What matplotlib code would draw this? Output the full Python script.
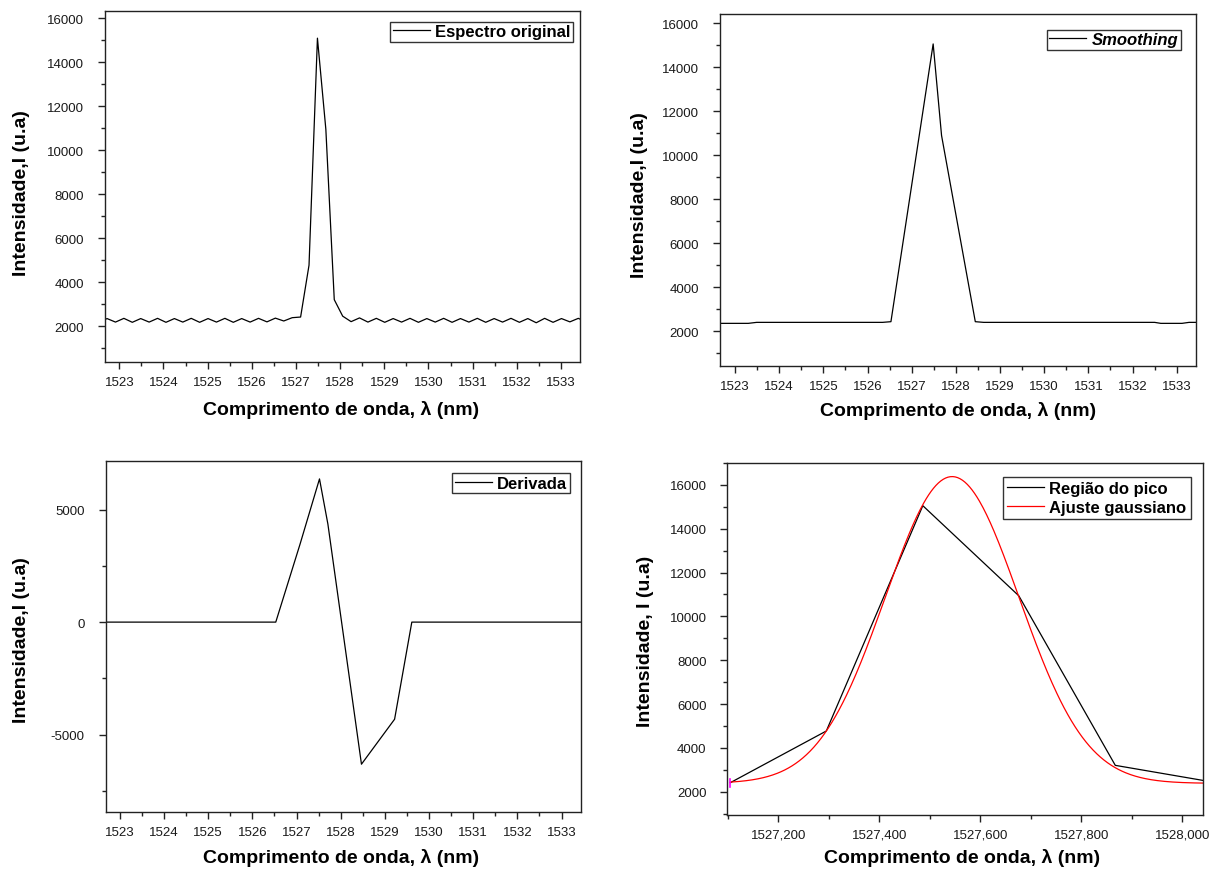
import numpy as np
import matplotlib
matplotlib.use("Agg")
import matplotlib.pyplot as plt
from matplotlib.ticker import MultipleLocator, FuncFormatter

plt.rcParams['font.family'] = ['Liberation Sans', 'DejaVu Sans']
plt.rcParams['axes.unicode_minus'] = False

# ---------------- data ----------------
# original spectrum, sampled every ~0.1905 nm around the peak at 1527.486 nm
orig_x0 = 1527.486
orig_step = 0.1905
orig_k = list(range(-26, 33))
orig_y = [2170, 2340, 2180, 2350, 2170, 2340, 2180, 2350, 2170, 2340,
          2180, 2350, 2170, 2340, 2180, 2350, 2170, 2340, 2180, 2350,
          2190, 2360, 2230, 2380,
          2410, 4770, 15100, 10950, 3200,
          2450, 2200,
          2370, 2180, 2350, 2170, 2340, 2180, 2350, 2170, 2340, 2180,
          2350, 2170, 2340, 2180, 2350, 2170, 2340, 2180, 2350, 2170,
          2340, 2150, 2350, 2170, 2340, 2190, 2350, 2180]

# smoothed spectrum (vertices)
smooth_x = [1522.50, 1523.30, 1523.49, 1526.34, 1526.53, 1527.486, 1527.676,
            1528.44, 1528.63, 1532.50, 1532.64, 1533.12, 1533.28, 1533.60]
smooth_y = [2364, 2364, 2409, 2409, 2440, 15060, 10900,
            2440, 2409, 2409, 2364, 2364, 2409, 2409]

# derivative (vertices)
deriv_x = [1522.50, 1526.53, 1527.08, 1527.52, 1527.71, 1528.47, 1529.22, 1529.61, 1533.60]
deriv_y = [0, 0, 3470, 6370, 4360, -6320, -4320, 0, 0]

# peak region and gaussian fit
peak_x = [1527.105, 1527.295, 1527.486, 1527.676, 1527.867, 1528.057]
peak_y = [2411, 4770, 15052, 10940, 3202, 2450]
fit_center = 1527.544
fit_sigma = 0.1324
fit_amp = 14000
fit_base = 2380

ylabel_txt = "Intensidade,I (u.a)"
ylabel_txt_br = "Intensidade, I (u.a)"
xlabel_txt = "Comprimento de onda, \u03bb (nm)"

# ---------------- figure ----------------
W, H = 1219, 870
fig = plt.figure(figsize=(W / 100, H / 100), dpi=100)


def ax_at(x0, y0, x1, y1):
    return fig.add_axes([x0 / W, 1 - y1 / H, (x1 - x0) / W, (y1 - y0) / H])


def style(ax):
    for s in ax.spines.values():
        s.set_linewidth(1.0)
        s.set_color('#222222')
    ax.tick_params(which='both', direction='out', top=False, right=False,
                   labelsize=9.5, colors='#222222', labelcolor='#1a1a1a', width=1.0)
    ax.tick_params(which='major', length=5)
    ax.tick_params(which='minor', length=3)
    ax.tick_params(axis='y', which='major', pad=10)
    ax.tick_params(axis='x', which='major', pad=5)


label_kw = dict(fontsize=14, fontweight='bold', color='black')


def legend_at(ax, right_px, top_px, prop, borderpad=0.25):
    return ax.legend(prop=prop, frameon=True, fancybox=False, edgecolor='#333333',
                     framealpha=1, borderpad=borderpad, handlelength=2.2,
                     handletextpad=0.35, borderaxespad=0, labelspacing=0.25,
                     loc='upper right',
                     bbox_to_anchor=(right_px / W, 1 - top_px / H),
                     bbox_transform=fig.transFigure)


orig_x = [orig_x0 + orig_step * k for k in orig_k]

# --- top-left: original spectrum
ax1 = ax_at(104.7, 11.7, 580, 363.3)
ax1.plot(orig_x, orig_y, color='black', lw=0.9, label='Espectro original')
ax1.set_xlim(1522.67, 1533.43)
ax1.set_ylim(350, 16350)
ax1.xaxis.set_major_locator(MultipleLocator(1))
ax1.xaxis.set_minor_locator(MultipleLocator(0.5))
ax1.yaxis.set_major_locator(MultipleLocator(2000))
ax1.yaxis.set_minor_locator(MultipleLocator(1000))
style(ax1)
legend_at(ax1, 573.3, 22.7, dict(weight='bold', size=12), borderpad=0.15)
fig.text(22 / W, 1 - 193 / H, ylabel_txt, rotation=90, ha='center', va='center', **label_kw)
fig.text(341 / W, 1 - 410 / H, xlabel_txt, ha='center', va='center', **label_kw)

# --- top-right: smoothing
ax2 = ax_at(720, 15, 1195.7, 366.7)
ax2.plot(smooth_x, smooth_y, color='black', lw=0.9, label='Smoothing')
ax2.set_xlim(1522.66, 1533.43)
ax2.set_ylim(440, 16420)
ax2.xaxis.set_major_locator(MultipleLocator(1))
ax2.xaxis.set_minor_locator(MultipleLocator(0.5))
ax2.yaxis.set_major_locator(MultipleLocator(2000))
ax2.yaxis.set_minor_locator(MultipleLocator(1000))
style(ax2)
legend_at(ax2, 1180.7, 30.7, dict(weight='bold', style='italic', size=12), borderpad=0.15)
fig.text(640 / W, 1 - 195 / H, ylabel_txt, rotation=90, ha='center', va='center', **label_kw)
fig.text(958 / W, 1 - 411 / H, xlabel_txt, ha='center', va='center', **label_kw)

# --- bottom-left: derivative
ax3 = ax_at(105.7, 461.7, 581, 813.3)
ax3.plot(deriv_x, deriv_y, color='black', lw=0.9, label='Derivada')
ax3.set_xlim(1522.68, 1533.44)
ax3.set_ylim(-8460, 7180)
ax3.xaxis.set_major_locator(MultipleLocator(1))
ax3.xaxis.set_minor_locator(MultipleLocator(0.5))
ax3.yaxis.set_major_locator(MultipleLocator(5000))
ax3.yaxis.set_minor_locator(MultipleLocator(2500))
style(ax3)
legend_at(ax3, 570, 474.3, dict(weight='bold', size=12), borderpad=0.15)
fig.text(22 / W, 1 - 640 / H, ylabel_txt, rotation=90, ha='center', va='center', **label_kw)
fig.text(341 / W, 1 - 858 / H, xlabel_txt, ha='center', va='center', **label_kw)

# --- bottom-right: peak region + gaussian fit
ax4 = ax_at(727.3, 464, 1202.7, 815.7)
ax4.plot(peak_x, peak_y, color='black', lw=0.9, label='Regi\u00e3o do pico')
xf = np.linspace(peak_x[0], 1528.06, 400)
yf = fit_base + fit_amp * np.exp(-(xf - fit_center) ** 2 / (2 * fit_sigma ** 2))
ax4.plot(xf, yf, color='red', lw=0.9, label='Ajuste gaussiano')
ax4.plot([peak_x[0], peak_x[0]], [2200, 2560], color='magenta', lw=1.2)
ax4.set_xlim(1527.099, 1528.04)
ax4.set_ylim(950, 17000)
ax4.xaxis.set_major_locator(MultipleLocator(0.2))
ax4.xaxis.set_minor_locator(MultipleLocator(0.1))
ax4.xaxis.set_major_formatter(FuncFormatter(lambda v, p: f"{v:.3f}".replace('.', ',')))
ax4.yaxis.set_major_locator(MultipleLocator(2000))
ax4.yaxis.set_minor_locator(MultipleLocator(1000))
style(ax4)
legend_at(ax4, 1190.7, 477.7, dict(weight='bold', size=12), borderpad=0.25)
fig.text(645 / W, 1 - 641 / H, ylabel_txt_br, rotation=90, ha='center', va='center', **label_kw)
fig.text(962 / W, 1 - 858 / H, xlabel_txt, ha='center', va='center', **label_kw)

fig.savefig("out.png", dpi=100)
